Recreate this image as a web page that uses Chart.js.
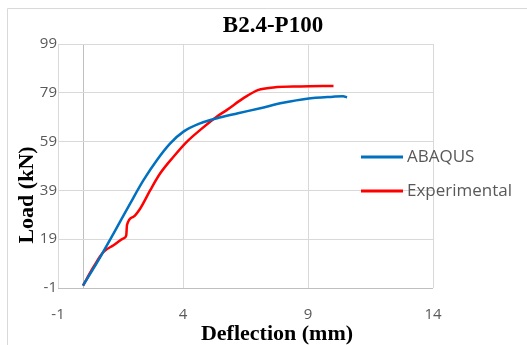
<!DOCTYPE html>
<html>
<head>
<meta charset="utf-8">
<script src="https://cdn.jsdelivr.net/npm/chart.js@4/dist/chart.umd.min.js"></script>
<style>
  html, body { margin: 0; padding: 0; background: #fff; }
  #wrap { width: 527px; height: 345px; position: relative; }
</style>
</head>
<body>
<div id="wrap"><canvas id="chart"></canvas></div>
<script>
// valeurs (flèche en mm, charge en kN)
const abaqusX = [0, 0.69, 1.22, 1.89, 2.42, 2.96, 3.49, 4.02, 4.69, 5.36, 6.2, 7.09, 8.0, 8.96, 10.0, 10.4, 10.56];
const abaqusY = [0, 11.7, 21.3, 33.7, 43.2, 51.5, 58.3, 63.1, 66.5, 68.6, 70.6, 72.7, 74.9, 76.6, 77.4, 77.6, 77.1];

const expX = [0, 0.42, 0.82, 1.22, 1.62, 1.73, 1.76, 2.02, 2.29, 2.69, 3.09, 3.62, 4.16, 4.69, 5.36, 5.76, 6.42, 7.02, 7.62, 8.69, 10.02];
const expY = [0, 7.6, 13.8, 16.5, 19.3, 20.6, 24.8, 28.2, 31.6, 39.1, 46.0, 52.8, 59.0, 63.8, 69.3, 72.0, 76.8, 80.2, 81.2, 81.6, 81.8];

const xTicks = [-1, 4, 9, 14];
const yTicks = [-1, 19, 39, 59, 79, 99];

const chartTitle = 'B2.4-P100';
const xTitle = 'Deflection (mm)';
const yTitle = 'Load (kN)';

const toPoints = (xs, ys) => xs.map((x, i) => ({ x: x, y: ys[i] }));

// titres, cadre et légende façon Excel (légende posée sur la zone de tracé)
const excelDecor = {
    id: 'excelDecor',
    beforeDraw(chart) {
        const ctx = chart.ctx;
        ctx.save();
        ctx.fillStyle = '#fff';
        ctx.fillRect(0, 0, chart.width, chart.height);
        ctx.strokeStyle = '#d9d9d9';
        ctx.lineWidth = 1;
        ctx.beginPath();
        ctx.moveTo(7.5, chart.height);
        ctx.lineTo(7.5, 8.5);
        ctx.lineTo(chart.width, 8.5);
        ctx.stroke();
        ctx.restore();
    },
    afterDraw(chart) {
        const ctx = chart.ctx;
        ctx.save();
        ctx.fillStyle = '#000';
        ctx.textAlign = 'center';
        ctx.textBaseline = 'middle';
        ctx.font = 'bold 23px "Liberation Serif"';
        ctx.fillText(chartTitle, 273, 26);
        ctx.font = 'bold 22px "Liberation Serif"';
        ctx.fillText(xTitle, 277, 334);
        ctx.translate(27, 195);
        ctx.rotate(-Math.PI / 2);
        ctx.fillText(yTitle, 0, 0);
        ctx.restore();

        // légende
        ctx.save();
        ctx.font = '17px "Open Sans"';
        ctx.textAlign = 'left';
        ctx.textBaseline = 'middle';
        chart.data.datasets.forEach((ds, i) => {
            const y = 157 + i * 34;
            ctx.strokeStyle = ds.borderColor;
            ctx.lineWidth = 3;
            ctx.beginPath();
            ctx.moveTo(361, y);
            ctx.lineTo(403, y);
            ctx.stroke();
            ctx.fillStyle = '#595959';
            ctx.fillText(ds.label, 407, y);
        });
        ctx.restore();
    }
};

new Chart(document.getElementById('chart'), {
    type: 'line',
    data: {
        datasets: [
            {
                label: 'ABAQUS',
                data: toPoints(abaqusX, abaqusY),
                borderColor: '#0070C0',
                backgroundColor: '#0070C0',
                borderWidth: 2.5,
                pointRadius: 0,
                cubicInterpolationMode: 'monotone'
            },
            {
                label: 'Experimental',
                data: toPoints(expX, expY),
                borderColor: '#FF0000',
                backgroundColor: '#FF0000',
                borderWidth: 2.5,
                pointRadius: 0,
                cubicInterpolationMode: 'monotone'
            }
        ]
    },
    options: {
        responsive: true,
        maintainAspectRatio: false,
        animation: false,
        layout: { padding: { left: 0, top: 44, right: 94, bottom: 0 } },
        plugins: {
            legend: { display: false },
            title: { display: false },
            tooltip: { enabled: false }
        },
        scales: {
            x: {
                type: 'linear',
                min: -1,
                max: 14,
                afterBuildTicks: (scale) => {
                    // on ajoute 0 pour tracer l'axe vertical
                    scale.ticks = [...xTicks, 0].sort((a, b) => a - b).map(v => ({ value: v }));
                },
                afterFit: (scale) => { scale.height = 57; },
                ticks: {
                    color: '#595959',
                    font: { family: 'Open Sans', size: 15 },
                    padding: 18,
                    maxRotation: 0,
                    autoSkip: false,
                    callback: (v) => (v === 0 ? '' : v)
                },
                grid: {
                    color: (c) => (c.tick && c.tick.value === 0 ? '#bfbfbf' : '#d9d9d9'),
                    drawTicks: false
                },
                border: { display: false }
            },
            y: {
                min: -1,
                max: 99,
                afterBuildTicks: (scale) => {
                    scale.ticks = yTicks.map(v => ({ value: v }));
                },
                afterFit: (scale) => { scale.width = 58; },
                ticks: {
                    color: '#595959',
                    font: { family: 'Open Sans', size: 15 },
                    padding: 1,
                    autoSkip: false
                },
                grid: {
                    color: (c) => (c.tick && c.tick.value === -1 ? '#bfbfbf' : '#d9d9d9'),
                    drawTicks: false
                },
                border: { display: false }
            }
        }
    },
    plugins: [excelDecor]
});
</script>
</body>
</html>
